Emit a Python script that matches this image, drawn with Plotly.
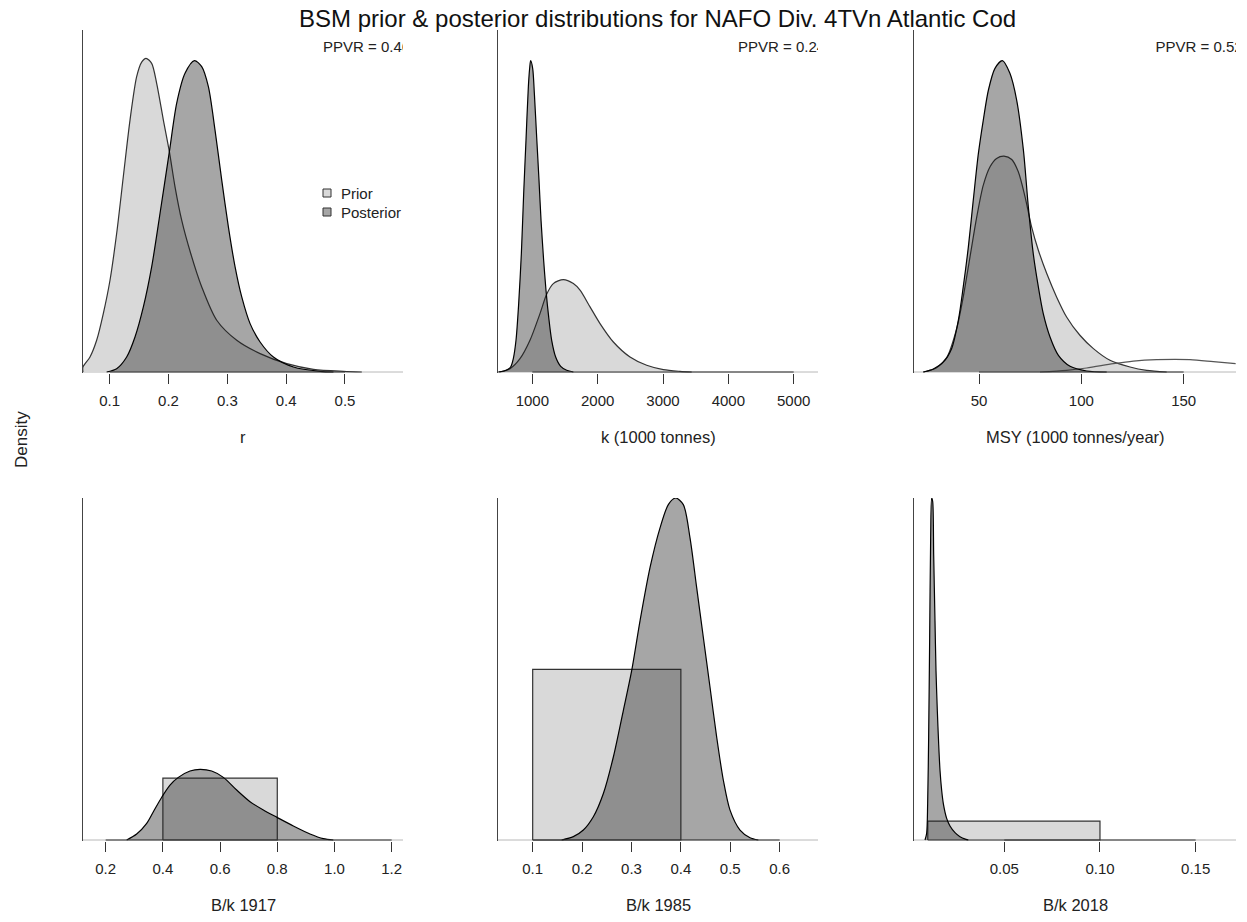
import plotly.graph_objects as go

W, H = 1247, 922
FONT = "Liberation Sans, Arial, sans-serif"

TITLE = "BSM prior & posterior distributions for NAFO Div. 4TVn Atlantic Cod"
Y_LABEL = "Density"
AXIS_TITLES = ["r", "k (1000 tonnes)", "MSY (1000 tonnes/year)", "B/k 1917", "B/k 1985", "B/k 2018"]
PPVR_TEXT = ["PPVR = 0.46", "PPVR = 0.24", "PPVR = 0.52"]
LEGEND_LABELS = ["Prior", "Posterior"]

# ---------------- r ----------------
r_prior_x = [0.0546, 0.0546, 0.0666, 0.0779, 0.0892, 0.1006, 0.1119, 0.1232, 0.1346, 0.1459, 0.1544, 0.1618,
             0.1714, 0.1799, 0.1913, 0.2015, 0.2111, 0.2224, 0.2378, 0.2565, 0.2820, 0.3160, 0.3557,
             0.4011, 0.4464, 0.4974, 0.5286]
r_prior_y = [0.0, 0.131, 0.393, 0.829, 1.527, 2.399, 3.620, 5.103, 6.586, 7.720, 8.100, 8.200,
             8.069, 7.545, 6.586, 5.760, 4.841, 3.969, 3.097, 2.224, 1.352, 0.829, 0.480,
             0.218, 0.070, 0.017, 0.0]
r_post_x = [0.0949, 0.1119, 0.1289, 0.1431, 0.1573, 0.1714, 0.1856, 0.2015, 0.2139, 0.2281, 0.2440, 0.2565,
            0.2678, 0.2791, 0.2905, 0.3018, 0.3132, 0.3245, 0.3387, 0.3557, 0.3783, 0.4124, 0.4577, 0.4804]
r_post_y = [0.0, 0.087, 0.393, 0.916, 1.701, 2.748, 4.143, 5.760, 7.022, 7.807, 8.139, 7.982,
            7.458, 6.324, 5.016, 3.795, 2.748, 1.963, 1.265, 0.785, 0.393, 0.131, 0.017, 0.0]

# ---------------- k ----------------
k_prior_x = [495, 658, 811, 964, 1117, 1219, 1321, 1474, 1628, 1730, 1883, 2036, 2240, 2495, 2750, 3005, 3260, 3439]
k_prior_y = [0.0, 0.035e-3, 0.141e-3, 0.336e-3, 0.619e-3, 0.824e-3, 0.937e-3, 0.980e-3, 0.937e-3,
             0.867e-3, 0.690e-3, 0.513e-3, 0.318e-3, 0.159e-3, 0.071e-3, 0.025e-3, 0.007e-3, 0.0]
k_post_x = [480, 607, 668, 709, 750, 791, 832, 867, 903, 939, 959, 974, 1005, 1031, 1066, 1102, 1133,
            1173, 1209, 1250, 1296, 1357, 1434, 1526, 1628]
k_post_y = [0.0, 0.021e-3, 0.053e-3, 0.142e-3, 0.336e-3, 0.725e-3, 1.256e-3, 1.885e-3, 2.458e-3, 3.024e-3,
            3.219e-3, 3.300e-3, 3.219e-3, 2.953e-3, 2.494e-3, 2.034e-3, 1.609e-3, 1.185e-3, 0.867e-3,
            0.584e-3, 0.336e-3, 0.159e-3, 0.060e-3, 0.018e-3, 0.0]

# ---------------- MSY ----------------
msy_prior_x = [22.8, 29.3, 34.2, 39.1, 42.3, 45.6, 48.9, 52.1, 55.4, 58.6, 62.2, 66.0, 69.2, 72.5, 75.7,
               79.0, 83.1, 87.9, 92.8, 99.3, 105.9, 114.0, 123.8, 131.9, 141.7]
msy_prior_y = [0.0, 0.00056, 0.00184, 0.00557, 0.00965, 0.01479, 0.01993, 0.02401, 0.02637, 0.02744,
               0.02774, 0.02731, 0.02572, 0.02251, 0.01865, 0.01565, 0.01265, 0.00965, 0.00707, 0.00472,
               0.00300, 0.00150, 0.00064, 0.00021, 0.0]
msy_post_x = [22.8, 27.7, 32.6, 36.6, 39.9, 42.3, 44.8, 47.2, 49.7, 52.1, 54.6, 57.8, 61.4, 65.1, 68.4,
              71.7, 74.1, 76.5, 79.0, 81.4, 84.7, 88.8, 94.5, 102.6, 112.4]
msy_post_y = [0.0, 0.00039, 0.00129, 0.00300, 0.00664, 0.01093, 0.01608, 0.02208, 0.02808, 0.03237,
              0.03623, 0.03901, 0.04000, 0.03837, 0.03494, 0.02851, 0.02122, 0.01522, 0.01093, 0.00750,
              0.00450, 0.00214, 0.00073, 0.00013, 0.0]
msy_other_x = [79.8, 92.8, 102.6, 115.6, 125.4, 136.8, 153.1, 164.5, 175.4]
msy_other_y = [0.0, 0.00021, 0.00051, 0.00107, 0.00141, 0.00159, 0.00159, 0.00133, 0.00107]

# ---------------- B/k 1917 ----------------
bk1917_prior_lo, bk1917_prior_hi, bk1917_prior_h = 0.4, 0.8, 2.5
bk1917_post_x = [0.2734, 0.3084, 0.3434, 0.3667, 0.3970, 0.4249, 0.4541, 0.4949, 0.5298, 0.5706, 0.6114,
                 0.6580, 0.7047, 0.7513, 0.7991, 0.8562, 0.9145, 0.9611, 0.9960]
bk1917_post_y = [0.0, 0.242, 0.672, 1.142, 1.747, 2.218, 2.527, 2.782, 2.850, 2.782, 2.527,
                 2.016, 1.546, 1.210, 0.914, 0.565, 0.242, 0.054, 0.0]

# ---------------- B/k 1985 ----------------
bk1985_prior_lo, bk1985_prior_hi, bk1985_prior_h = 0.1, 0.4, 3.333
bk1985_post_x = [0.1587, 0.1823, 0.2026, 0.2228, 0.2431, 0.2633, 0.2835, 0.3004, 0.3173, 0.3375, 0.3578,
                 0.3746, 0.3895, 0.4050, 0.4185, 0.4320, 0.4455, 0.4590, 0.4725, 0.4860, 0.4995, 0.5197,
                 0.5400, 0.5568]
bk1985_post_y = [0.0, 0.065, 0.195, 0.454, 0.908, 1.621, 2.529, 3.307, 4.280, 5.318, 6.096,
                 6.550, 6.680, 6.550, 5.901, 4.929, 3.956, 2.983, 2.010, 1.167, 0.584, 0.195,
                 0.045, 0.0]

# ---------------- B/k 2018 ----------------
bk2018_prior_lo, bk2018_prior_hi, bk2018_prior_h = 0.01, 0.10, 11.11
bk2018_post_x = [0.00854, 0.00941, 0.00993, 0.01045, 0.01098, 0.01150, 0.01202, 0.01254, 0.01307, 0.01376,
                 0.01429, 0.01498, 0.01568, 0.01638, 0.01725, 0.01812, 0.01986, 0.02160, 0.02422, 0.02683,
                 0.02997, 0.03118]
bk2018_post_y = [0.0, 3.9, 21.4, 60.4, 118.9, 177.4, 200.7, 198.8, 167.6, 128.6,
                 99.4, 76.0, 56.5, 40.9, 29.2, 21.4, 12.7, 8.2, 4.3, 1.9,
                 0.4, 0.0]

# ---------------- axes ----------------
ticks = [
    ([0.1, 0.2, 0.3, 0.4, 0.5], ["0.1", "0.2", "0.3", "0.4", "0.5"]),
    ([1000, 2000, 3000, 4000, 5000], ["1000", "2000", "3000", "4000", "5000"]),
    ([50, 100, 150], ["50", "100", "150"]),
    ([0.2, 0.4, 0.6, 0.8, 1.0, 1.2], ["0.2", "0.4", "0.6", "0.8", "1.0", "1.2"]),
    ([0.1, 0.2, 0.3, 0.4, 0.5, 0.6], ["0.1", "0.2", "0.3", "0.4", "0.5", "0.6"]),
    ([0.05, 0.10, 0.15], ["0.05", "0.10", "0.15"]),
]
x_ranges = [(0.0547, 0.5986), (474.5, 5372), (18.24, 175.57), (0.1207, 1.2396), (0.0298, 0.6776), (0.00279, 0.1711)]
y_tops = [8.94, 3.625e-3, 0.04394, 13.80, 6.68, 200.7]

# pixel layout of the plot regions
COLS = [(83, 403), (498, 818), (914, 1236)]
ROWS = [(30, 372), (498, 840)]

PRIOR_FILL = "#d9d9d9"
POST_FILL = "rgba(30,30,30,0.395)"
PRIOR_LINE = "#333333"
POST_LINE = "#000000"
LW = 1.2


def rect(lo, hi, h):
    return [lo, lo, hi, hi, lo], [0, h, h, 0, 0]


curves = [
    ((r_prior_x, r_prior_y, "spline"), (r_post_x, r_post_y)),
    ((k_prior_x, k_prior_y, "spline"), (k_post_x, k_post_y)),
    ((msy_prior_x, msy_prior_y, "spline"), (msy_post_x, msy_post_y)),
    ((*rect(bk1917_prior_lo, bk1917_prior_hi, bk1917_prior_h), "linear"), (bk1917_post_x, bk1917_post_y)),
    ((*rect(bk1985_prior_lo, bk1985_prior_hi, bk1985_prior_h), "linear"), (bk1985_post_x, bk1985_post_y)),
    ((*rect(bk2018_prior_lo, bk2018_prior_hi, bk2018_prior_h), "linear"), (bk2018_post_x, bk2018_post_y)),
]

fig = go.Figure()
layout = dict(
    width=W, height=H, margin=dict(l=0, r=0, t=0, b=0),
    paper_bgcolor="white", plot_bgcolor="white", showlegend=False,
    font=dict(family=FONT, color="#222"),
)
annotations = []
shapes = []

for i in range(6):
    row, col = divmod(i, 3)
    L, R = COLS[col]
    T, B = ROWS[row]
    sfx = "" if i == 0 else str(i + 1)
    xa, ya = "x" + sfx, "y" + sfx
    ytop = y_tops[i]
    ymin = -ytop / (B - T)
    xmin, xmax = x_ranges[i]
    tv, tt = ticks[i]

    layout["xaxis" + sfx] = dict(
        domain=[L / W, R / W], range=[xmin, xmax], anchor=ya,
        tickvals=tv, ticktext=tt, ticks="outside", ticklen=10, tickwidth=1, tickcolor="#333",
        tickfont=dict(size=15, color="#222", family=FONT), ticklabelstandoff=4,
        showgrid=False, zeroline=False, showline=False, fixedrange=True,
    )
    layout["yaxis" + sfx] = dict(
        domain=[1 - (B + 1) / H, 1 - T / H], range=[ymin, ytop], anchor=xa,
        showticklabels=False, ticks="", showgrid=False, zeroline=False,
        showline=True, linecolor="#444", linewidth=1, fixedrange=True,
    )

    # light full-width baseline
    fig.add_trace(go.Scatter(x=[xmin, xmax], y=[0, 0], mode="lines", xaxis=xa, yaxis=ya,
                             line=dict(color="#b8b8b8", width=1), hoverinfo="skip"))

    (px_, py_, shape_), (qx, qy) = curves[i]
    fig.add_trace(go.Scatter(x=px_, y=py_, mode="lines", fill="toself", fillcolor=PRIOR_FILL,
                             line=dict(color=PRIOR_LINE, width=LW, shape=shape_, smoothing=0.8),
                             xaxis=xa, yaxis=ya, hoverinfo="skip"))
    if i == 2:
        fig.add_trace(go.Scatter(x=msy_other_x, y=msy_other_y, mode="lines",
                                 line=dict(color="#555", width=LW, shape="spline", smoothing=0.8),
                                 xaxis=xa, yaxis=ya, hoverinfo="skip"))
    fig.add_trace(go.Scatter(x=qx, y=qy, mode="lines", fill="toself", fillcolor=POST_FILL,
                             line=dict(color=POST_LINE, width=LW, shape="spline", smoothing=0.8),
                             xaxis=xa, yaxis=ya, hoverinfo="skip"))

    # dark axis segment between first and last tick
    fig.add_trace(go.Scatter(x=[tv[0], tv[-1]], y=[0, 0], mode="lines", xaxis=xa, yaxis=ya,
                             line=dict(color="#333", width=1), hoverinfo="skip"))

    if row == 0:
        fig.add_trace(go.Scatter(
            x=[xmin + 0.75 * (xmax - xmin)], y=[ytop * (1 - 18 / (B - T))],
            mode="text", text=[PPVR_TEXT[col]], textposition="middle right",
            textfont=dict(size=15, color="#222", family=FONT), cliponaxis=True,
            xaxis=xa, yaxis=ya, hoverinfo="skip"))

    title_y = 437 if row == 0 else 905
    annotations.append(dict(text=AXIS_TITLES[i], x=(L + R) / 2 / W, y=1 - title_y / H,
                            xref="paper", yref="paper", showarrow=False, xanchor="center",
                            yanchor="middle", font=dict(size=16.5, color="#222", family=FONT)))

annotations.append(dict(text=TITLE, x=657 / W, y=1 - 19 / H, xref="paper", yref="paper",
                        showarrow=False, xanchor="center", yanchor="middle",
                        font=dict(size=24, color="#111", family=FONT)))
annotations.append(dict(text=Y_LABEL, x=22 / W, y=1 - 440 / H, xref="paper", yref="paper",
                        showarrow=False, xanchor="center", yanchor="middle", textangle=-90,
                        font=dict(size=17, color="#222", family=FONT)))

# legend in first panel
leg_fill = [PRIOR_FILL, POST_FILL]
for j, (lab, yc) in enumerate(zip(LEGEND_LABELS, [193, 212])):
    shapes.append(dict(type="rect", xref="paper", yref="paper",
                       x0=323 / W, x1=331 / W, y0=1 - (yc + 4) / H, y1=1 - (yc - 4) / H,
                       fillcolor=leg_fill[j], line=dict(color="#333", width=1)))
    annotations.append(dict(text=lab, x=339 / W, y=1 - yc / H, xref="paper", yref="paper",
                            showarrow=False, xanchor="left", yanchor="middle",
                            font=dict(size=15, color="#222", family=FONT)))

layout["annotations"] = annotations
layout["shapes"] = shapes
fig.update_layout(**layout)
fig.write_html("out.html", config={"displayModeBar": False},
               post_script="document.body.style.margin='0';document.body.style.overflow='hidden';")
